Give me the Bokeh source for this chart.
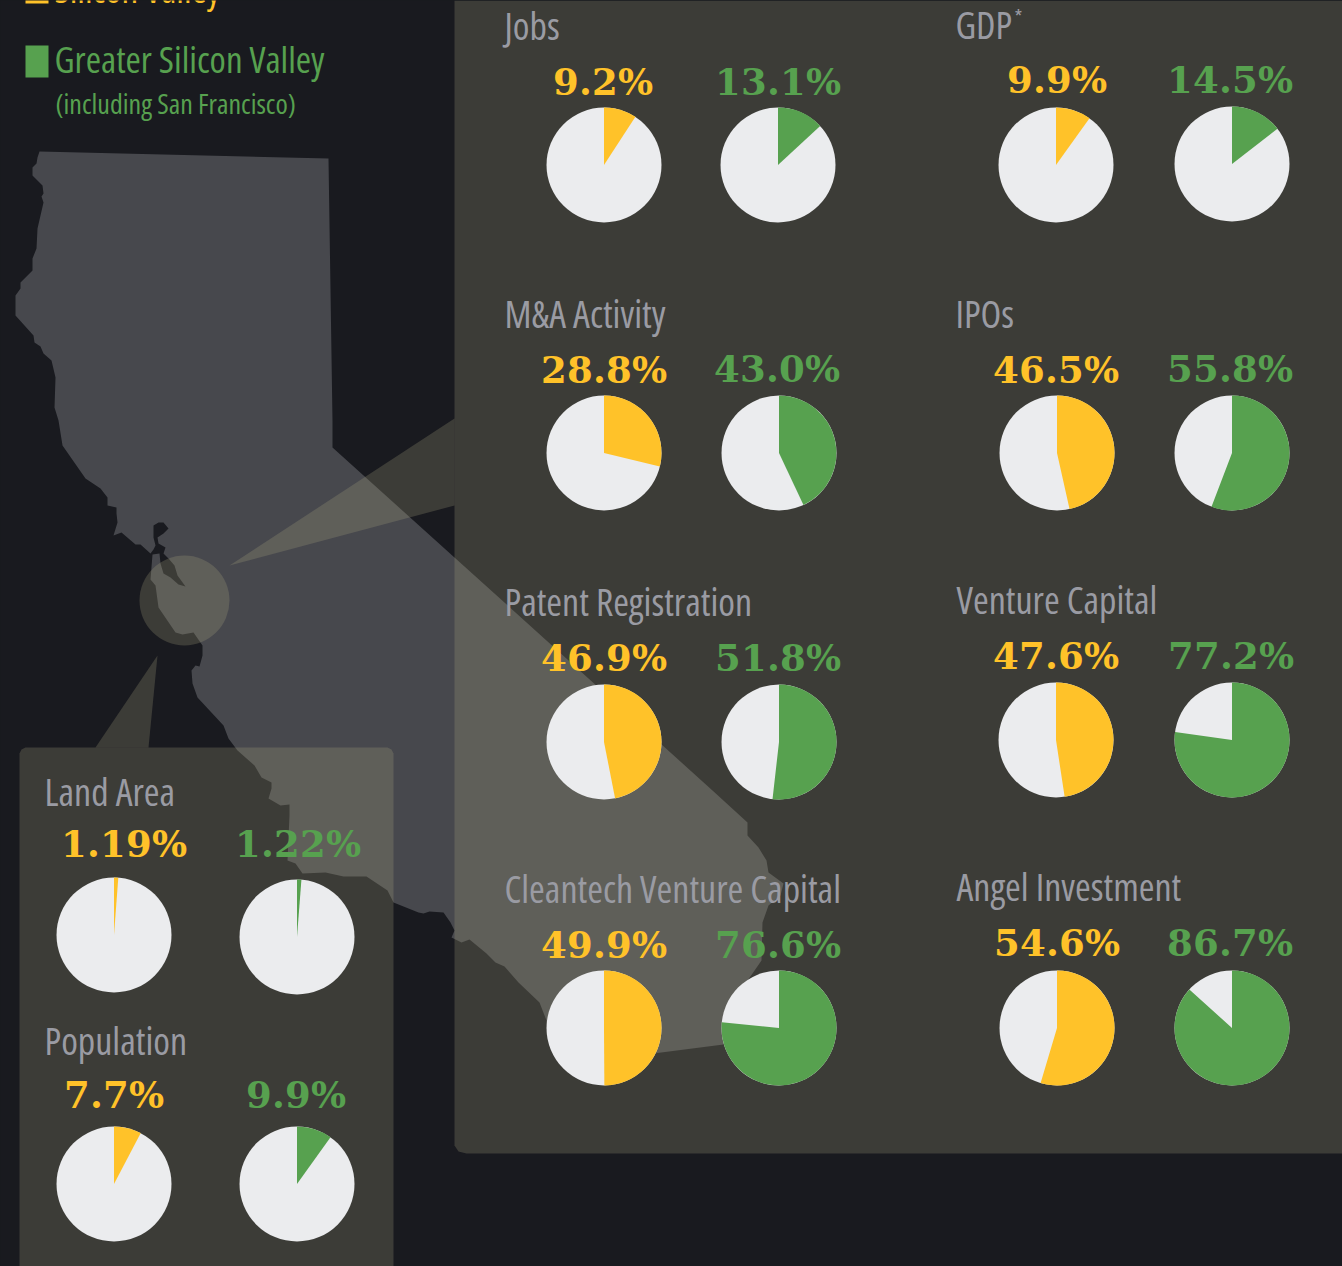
from math import pi
from bokeh.plotting import figure
from bokeh.models import Range1d
from bokeh.core.properties import value
from bokeh.embed import file_html
from bokeh.resources import INLINE

W, H = 1342, 1266
BG = "#191a1f"
YELLOW = "#ffc229"
GREEN = "#57a14f"
PIE_BG = "#ebecee"
TITLE = "#9a9ba3"
MAP = "#47484d"
PANEL = "#a9a27f"
PANEL_ALPHA = 0.25
TITLE_FONT = "Open Sans"
NUM_FONT = "Number Slab"

metrics = ["Jobs", "GDP", "M&A Activity", "IPOs", "Patent Registration", "Venture Capital",
           "Cleantech Venture Capital", "Angel Investment", "Land Area", "Population"]
silicon_valley = [9.2, 9.9, 28.8, 46.5, 46.9, 47.6, 49.9, 54.6, 1.19, 7.7]
greater_silicon_valley = [13.1, 14.5, 43.0, 55.8, 51.8, 77.2, 76.6, 86.7, 1.22, 9.9]
sv_labels = ["9.2%", "9.9%", "28.8%", "46.5%", "46.9%", "47.6%", "49.9%", "54.6%", "1.19%", "7.7%"]
gsv_labels = ["13.1%", "14.5%", "43.0%", "55.8%", "51.8%", "77.2%", "76.6%", "86.7%", "1.22%", "9.9%"]

# layout: page-pixel positions (x grows right, y grows down)
title_x = [504, 955, 504, 955, 504, 956, 504, 956, 44, 44]
title_y = [24, 23, 312, 312, 600, 598, 887, 885, 790, 1039]
sv_cx = [603.5, 1055.5, 603.5, 1056.5, 603.5, 1055.5, 603.5, 1056.5, 113.5, 113.5]
sv_cy = [164.5, 164.5, 452.5, 452.5, 741.5, 739.5, 1027.5, 1027.5, 934.5, 1183.5]
gsv_cx = [777.5, 1231.5, 778.5, 1231.5, 778.5, 1231.5, 778.5, 1231.5, 296.5, 296.5]
gsv_cy = [164.5, 163.5, 452.5, 452.5, 741.5, 739.5, 1027.5, 1027.5, 936.5, 1183.5]
sv_lx = [602, 1056, 603, 1055, 603, 1055, 603, 1056, 123, 113]
sv_ly = [81, 79, 369, 369, 657, 655, 944, 942, 843, 1094]
gsv_lx = [777, 1229, 776, 1229, 777, 1230, 777, 1229, 297, 295]
gsv_ly = [81, 79, 368, 368, 657, 655, 944, 942, 843, 1094]
RADIUS = 57.5

map_x = [39, 37, 36, 32, 32, 42, 43, 41, 43, 37, 36, 32, 32, 20, 20, 15, 15, 33, 34, 40, 43, 51, 55, 54, 58,
         62, 85, 100, 107, 107, 116, 116, 117, 113, 121, 135, 140, 150, 153, 155, 153, 153, 158, 163, 168, 163,
         157, 158, 165, 163, 168, 174, 177, 185, 178, 170, 163, 160, 159, 152, 150, 155, 158, 175, 182, 193,
         202, 202, 199, 195, 191, 192, 197, 223, 228, 237, 254, 261, 271, 271, 268, 280, 289, 289, 287, 295,
         302, 325, 343, 366, 387, 393, 418, 423, 429, 443, 450, 454, 451, 461, 469, 486, 495, 504, 518, 539,
         546, 552, 575, 653, 723, 740, 752, 761, 762, 768, 780, 783, 768, 766, 758, 747, 747, 712, 454, 332, 332, 328]
map_y = [151, 157, 163, 167, 175, 185, 193, 196, 202, 228, 248, 258, 270, 282, 288, 295, 315, 335, 342, 346,
         353, 360, 377, 407, 420, 445, 478, 488, 497, 505, 507, 513, 522, 535, 532, 544, 544, 553, 549, 545,
         537, 525, 522, 522, 528, 533, 537, 543, 547, 553, 558, 565, 575, 586, 584, 577, 573, 563, 553, 554,
         579, 585, 607, 632, 634, 632, 645, 655, 666, 665, 670, 683, 697, 725, 738, 750, 765, 777, 782, 788,
         798, 805, 804, 815, 860, 863, 873, 872, 876, 876, 890, 902, 912, 913, 911, 912, 922, 930, 937, 942,
         939, 953, 962, 966, 982, 1002, 1020, 1040, 1066, 1053, 1044, 990, 973, 960, 922, 905, 895, 883, 872,
         860, 847, 835, 822, 790, 557, 447, 420, 158]

main_panel_x = [454, 1342, 1342, 466, 458, 454]
main_panel_y = [0, 0, 1153, 1153, 1151, 1145]
low_panel_x = [19, 21, 25, 387, 391, 393, 393, 19]
low_panel_y = [753, 749, 747, 747, 749, 753, 1266, 1266]
beam1_x = [454, 229, 454]
beam1_y = [418, 565, 505]
beam2_x = [95, 157, 148]
beam2_y = [747, 655, 747]


def Y(seq):
    return [H - v for v in seq]


p = figure(width=W, height=H, x_range=Range1d(0, W), y_range=Range1d(0, H),
           toolbar_location=None, output_backend="svg", min_border=0,
           background_fill_color=BG, border_fill_color=BG, outline_line_color=None)
p.axis.visible = False
p.grid.visible = False

p.patch(map_x, Y(map_y), fill_color=MAP, line_color=None)

for xs, ys in [(main_panel_x, main_panel_y), (low_panel_x, low_panel_y), (beam1_x, beam1_y), (beam2_x, beam2_y)]:
    p.patch(xs, Y(ys), fill_color=PANEL, fill_alpha=PANEL_ALPHA, line_color=None)
p.circle([184], Y([600]), radius=45, fill_color=PANEL, fill_alpha=PANEL_ALPHA, line_color=None)


def pies(cx, cy, vals, color):
    p.circle(cx, Y(cy), radius=RADIUS, fill_color=PIE_BG, line_color=None)
    ends = [pi / 2 - 2 * pi * v / 100 for v in vals]
    starts = [pi / 2] * len(vals)
    p.wedge(cx, Y(cy), radius=RADIUS, start_angle=ends, end_angle=starts,
            fill_color=color, line_color=None)


pies(sv_cx, sv_cy, silicon_valley, YELLOW)
pies(gsv_cx, gsv_cy, greater_silicon_valley, GREEN)


def label(x, y, t, color, size, font=TITLE_FONT, align="left", style="normal", baseline="alphabetic"):
    p.text(x, Y(y), text=t, text_color=color, text_font=value(font), text_font_size=size,
           text_align=align, text_baseline=baseline, text_font_style=style)


label(title_x, title_y, metrics, TITLE, "38px")
label([1014], [16], ["*"], TITLE, "20px")
label(sv_lx, sv_ly, sv_labels, YELLOW, "37px", NUM_FONT, "center", "bold")
label(gsv_lx, gsv_ly, gsv_labels, GREEN, "37px", NUM_FONT, "center", "bold")

p.quad(left=[25], right=[48], top=Y([-10]), bottom=Y([3]), fill_color=YELLOW, line_color=None)
p.quad(left=[25], right=[48], top=Y([45]), bottom=Y([77]), fill_color=GREEN, line_color=None)
label([54], [13], ["Silicon Valley"], YELLOW, "37px", baseline="bottom")
label([54], [58], ["Greater Silicon Valley"], GREEN, "37px")
label([55], [102], ["(including San Francisco)"], GREEN, "28px")

TEMPLATE = """{% block preamble %}<style>
@font-face{font-family:"Number Slab";src:local("DejaVu Serif Bold");font-weight:bold}
html,body{margin:0;padding:0;background:#191a1f;overflow:hidden;font-stretch:62.5%}
</style>{% endblock %}
"""
open("out.html", "w").write(file_html(p, INLINE, template=TEMPLATE))
